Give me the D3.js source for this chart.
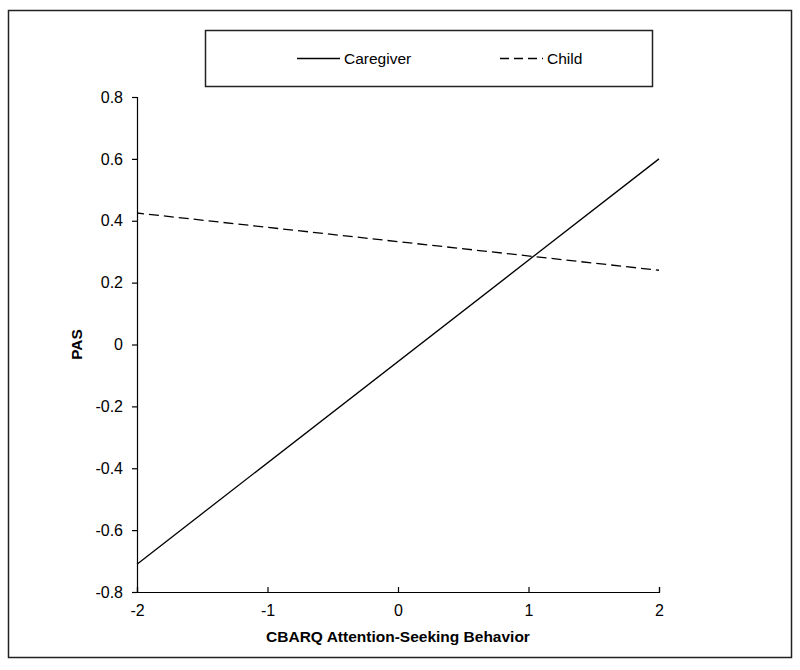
<!DOCTYPE html>
<html>
<head>
<meta charset="utf-8">
<script src="https://cdn.jsdelivr.net/npm/d3@7"></script>
<style>
	body { margin: 0; background: #fff; }
	text { font-family: "Liberation Sans", Arial, sans-serif; fill: #000; }
</style>
</head>
<body>
<svg id="chart"></svg>
<script>
// values
var xDomain = [-2, 2];
var yDomain = [-0.8, 0.8];
var xTicks = [-2, -1, 0, 1, 2];
var yTicks = [-0.8, -0.6, -0.4, -0.2, 0, 0.2, 0.4, 0.6, 0.8];
var seriesNames = ["Caregiver", "Child"];
var caregiver = [[-2, -0.71], [2, 0.60]];
var child = [[-2, 0.425], [2, 0.24]];

var width = 800, height = 670;
var margin = { top: 97, right: 141, bottom: 78, left: 137 };
var fontSize = "15.5px";
var tickFont = "16px";

var svg = d3.select("#chart")
	.attr("width", width)
	.attr("height", height);

// outer frame
svg.append("rect")
	.attr("x", 8.5).attr("y", 10.5)
	.attr("width", 783).attr("height", 647)
	.attr("fill", "none")
	.attr("stroke", "#222")
	.attr("stroke-width", 1.5);

var x = d3.scaleLinear()
	.domain(xDomain)
	.range([margin.left, width - margin.right]);

var y = d3.scaleLinear()
	.domain(yDomain)
	.range([height - margin.bottom - 0, margin.top]);

var fmt = function(d) {
	return d === 0 ? "0" : d3.format(".1f")(d).replace("−", "-");
};

//axis
var yAxis = svg.append("g")
	.attr("transform", "translate(" + x(-2) + ",0)")
	.call(d3.axisLeft(y).tickValues(yTicks).tickSize(5).tickPadding(9).tickFormat(fmt));

var xAxis = svg.append("g")
	.attr("transform", "translate(0," + y(-0.8) + ")")
	.call(d3.axisBottom(x).tickValues(xTicks).tickSize(-5).tickPadding(13).tickFormat(function(d) { return String(d); }));

[yAxis, xAxis].forEach(function(a) {
	a.select(".domain").attr("stroke", "#000").attr("stroke-width", 1.2);
	a.selectAll(".tick line").attr("stroke", "#000").attr("stroke-width", 1.2);
	a.selectAll(".tick text")
		.style("font-family", "'Liberation Sans', Arial, sans-serif")
		.style("font-size", tickFont)
		.attr("fill", "#000");
});

svg.append("text")
	.attr("x", (x(-2) + x(2)) / 2)
	.attr("y", 642)
	.attr("text-anchor", "middle")
	.style("font-size", fontSize)
	.style("font-weight", "bold")
	.text("CBARQ Attention-Seeking Behavior");

svg.append("text")
	.attr("transform", "translate(82," + y(0) + ") rotate(-90)")
	.attr("text-anchor", "middle")
	.style("font-size", fontSize)
	.style("font-weight", "bold")
	.text("PAS");

//線
var line = d3.line()
	.x(function(d) { return x(d[0]); })
	.y(function(d) { return y(d[1]); });

svg.append("path")
	.datum(caregiver)
	.attr("d", line)
	.attr("fill", "none")
	.attr("stroke", "#000")
	.attr("stroke-width", 1.3);

svg.append("path")
	.datum(child)
	.attr("d", line)
	.attr("fill", "none")
	.attr("stroke", "#000")
	.attr("stroke-width", 1.3)
	.attr("stroke-dasharray", "10,5")
	.attr("stroke-dashoffset", 3);

// legend
var legend = svg.append("g");
legend.append("rect")
	.attr("x", 205.5).attr("y", 30.5)
	.attr("width", 447).attr("height", 56)
	.attr("fill", "#fff")
	.attr("stroke", "#222")
	.attr("stroke-width", 1.5);

var legendItems = [
	{ name: seriesNames[0], x0: 297, dash: null },
	{ name: seriesNames[1], x0: 500, dash: "9,5" }
];
legendItems.forEach(function(it) {
	legend.append("line")
		.attr("x1", it.x0).attr("x2", it.x0 + 43)
		.attr("y1", 58.5).attr("y2", 58.5)
		.attr("stroke", "#000")
		.attr("stroke-width", 1.3)
		.attr("stroke-dasharray", it.dash);
	legend.append("text")
		.attr("x", it.x0 + 47)
		.attr("y", 64)
		.style("font-size", fontSize)
		.text(it.name);
});
</script>
</body>
</html>
